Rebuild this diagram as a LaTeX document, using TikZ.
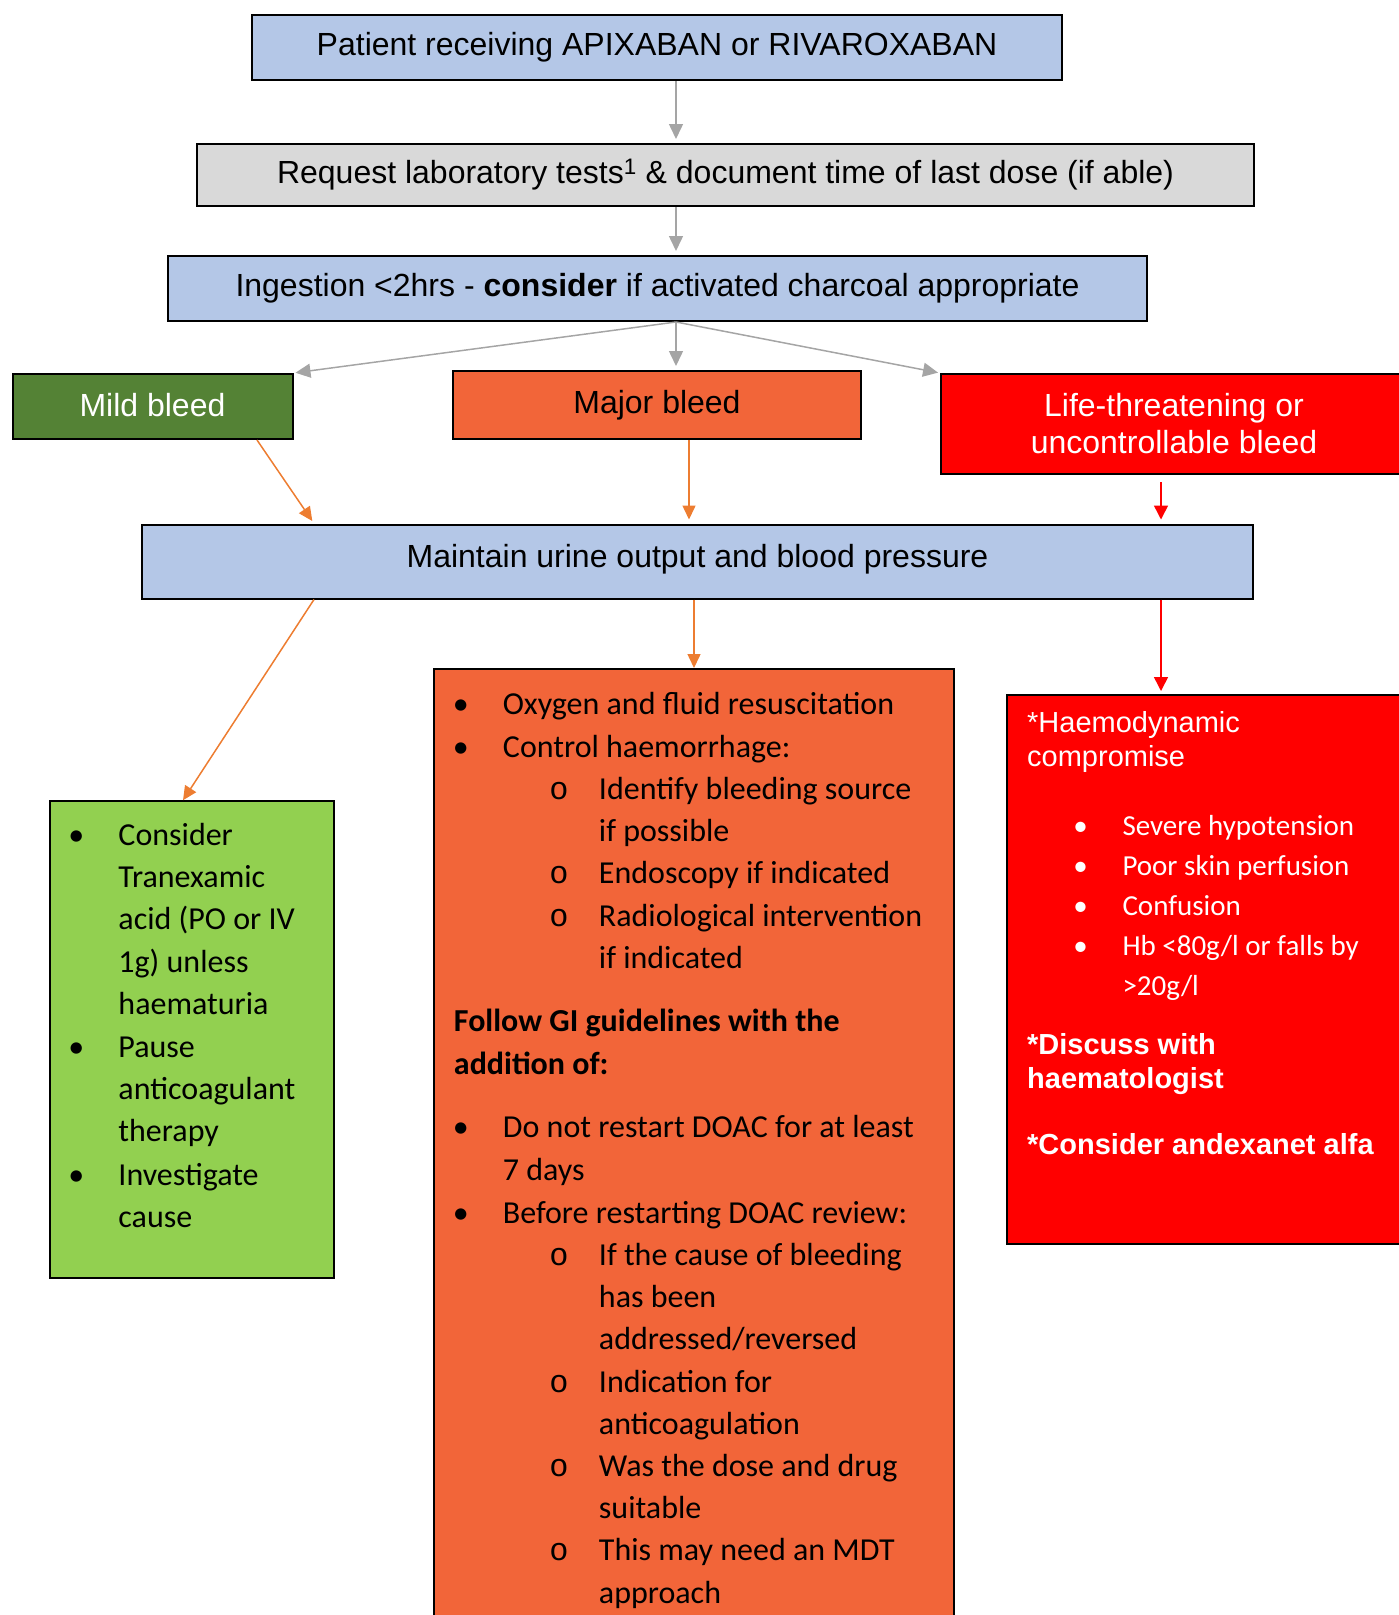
\documentclass[tikz,border=0pt]{standalone}
\usepackage{fontspec}
\setmainfont{Carlito}
\newfontfamily\arialfont{Liberation Sans}
\newfontfamily\monofont{Liberation Mono}
\usepackage{enumitem}
\usetikzlibrary{arrows.meta}

\definecolor{boxblue}{HTML}{B4C7E7}
\definecolor{boxgray}{HTML}{D9D9D9}
\definecolor{mildgreen}{HTML}{548235}
\definecolor{listgreen}{HTML}{92D050}
\definecolor{majororange}{HTML}{F26539}
\definecolor{arrowgray}{HTML}{A5A5A5}
\definecolor{arroworange}{HTML}{ED7D31}

\setlist[itemize]{nosep}
\setlist[itemize,1]{label=\makebox[0pt]{\textbullet}, leftmargin=49pt, labelwidth=0pt, labelsep=42pt, itemindent=0pt, itemsep=1pt}
\setlist[itemize,2]{label=\makebox[0pt]{\monofont o}, leftmargin=96pt, labelwidth=0pt, labelsep=40pt, itemindent=0pt}

\begin{document}
\begin{tikzpicture}[x=1pt,y=-1pt,
  flowbox/.style={draw=black, line width=2pt, inner sep=0pt, align=center,
    font=\arialfont\fontsize{32}{37}\selectfont},
  listbox/.style={draw=black, line width=1.5pt, inner sep=0pt},
  listtext/.style={anchor=north west, inner sep=0pt, align=flush left,
    font=\fontsize{32}{42.2}\selectfont},
  grayarrow/.style={draw=arrowgray, line width=1.5pt, -{Triangle[length=15pt,width=14pt]}},
  orangearrow/.style={draw=arroworange, line width=1.5pt, -{Triangle[length=14pt,width=13pt]}},
  redarrow/.style={draw=red, line width=1.5pt, -{Triangle[length=14pt,width=14pt]}}]
\useasboundingbox (0,0) rectangle (1399,1615);
\clip (0,0) rectangle (1399,1615);

% columns of the connectors
\coordinate (spine) at (676,0);
\coordinate (mildcol) at (314,0);
\coordinate (majorcol) at (689,0);
\coordinate (lifecol) at (1161,0);

\node[flowbox, fill=boxblue, minimum width=810pt, minimum height=65pt] (patient) at (657,47.5) {Patient receiving APIXABAN or RIVAROXABAN};
\node[flowbox, fill=boxgray, minimum width=1057pt, minimum height=62pt] (request) at (725.5,175) {Request laboratory tests\textsuperscript{1} \& document time of last dose (if able)};
\node[flowbox, fill=boxblue, minimum width=979pt, minimum height=65pt] (ingest) at (657.5,288.5) {Ingestion <2hrs - \textbf{consider} if activated charcoal appropriate};

\node[flowbox, fill=mildgreen, text=white, text depth=4pt, minimum width=280pt, minimum height=65pt] (mild) at (152.5,406.5) {Mild bleed};
\node[flowbox, fill=majororange, minimum width=408pt, minimum height=68pt] (major) at (657,405) {Major bleed};
\node[flowbox, fill=red, text=white, minimum width=466pt, minimum height=100pt] (life) at (1174,424) {Life-threatening or\\uncontrollable bleed};

\node[flowbox, fill=boxblue, text depth=12pt, minimum width=1111pt, minimum height=74pt] (maintain) at (697.5,561.5) {Maintain urine output and blood pressure};

\node[listbox, fill=listgreen, minimum width=284pt, minimum height=477pt] (mildlist) at (192,1039.5) {};
\node[listbox, fill=majororange, minimum width=520pt, minimum height=1000pt, anchor=north] (majorlist) at (694,668) {};
\node[listbox, fill=red, minimum width=420pt, minimum height=549pt, anchor=north west] (lifelist) at (1006,694) {};

\node[listtext, text width=260pt] (mildtext) at ([xshift=20pt,yshift=-2.8pt]mildlist.north west) {%
\begin{itemize}
\item Consider\\Tranexamic\\acid (PO or IV\\1g) unless\\haematuria
\item Pause\\anticoagulant\\therapy
\item Investigate\\cause
\end{itemize}};

\node[listtext, text width=490pt] (majortext) at ([xshift=20.5pt,yshift=-3.6pt]majorlist.north west) {%
\begin{itemize}
\item Oxygen and fluid resuscitation
\item Control haemorrhage:
  \begin{itemize}
  \item Identify bleeding source\\if possible
  \item Endoscopy if indicated
  \item Radiological intervention\\if indicated
  \end{itemize}
\end{itemize}\par
\vspace{21.5pt}
\textbf{Follow GI guidelines with the\\addition of:}\par
\vspace{21.5pt}
\begin{itemize}
\item Do not restart DOAC for at least\\7 days
\item Before restarting DOAC review:
  \begin{itemize}
  \item If the cause of bleeding\\has been\\addressed/reversed
  \item Indication for\\anticoagulation
  \item Was the dose and drug\\suitable
  \item This may need an MDT\\approach
  \end{itemize}
\end{itemize}};

\node[listtext, anchor=base west, text=white, text width=380pt] (lifetext) at ([xshift=21pt,yshift=-38.5pt]lifelist.north west) {%
{\arialfont\fontsize{29}{34}\selectfont *Haemodynamic\\compromise\par}%
\vspace{28.7pt}%
{\fontsize{29}{40}\selectfont
\begin{itemize}[leftmargin=95.3pt, labelsep=41.9pt, itemsep=0pt]
\item Severe hypotension
\item Poor skin perfusion
\item Confusion
\item Hb <80g/l or falls by\\>20g/l
\end{itemize}\par}%
\vspace{25.5pt}%
{\arialfont\bfseries\fontsize{29}{34}\selectfont *Discuss with\\haematologist\par
\vspace{32pt}
*Consider andexanet alfa\par}};

\draw[grayarrow, shorten >=4pt] (patient.south -| spine) -- (request.north -| spine);
\draw[grayarrow, shorten >=4pt] (request.south -| spine) -- (ingest.north -| spine);
\draw[grayarrow, shorten >=2pt] (ingest.south -| spine) -- (mild.north east);
\draw[grayarrow, shorten >=4pt] (ingest.south -| spine) -- (major.north -| spine);
\draw[grayarrow, shorten >=2pt] (ingest.south -| spine) -- (life.north west);

\draw[orangearrow, shorten >=3pt] ([xshift=-36.5pt]mild.south east) -- (maintain.north -| mildcol);
\draw[orangearrow, shorten >=4pt] (major.south -| majorcol) -- (maintain.north -| majorcol);
\draw[redarrow, shorten <=7pt, shorten >=4pt] (life.south -| lifecol) -- (maintain.north -| lifecol);

\draw[orangearrow] (maintain.south -| mildcol) -- ([xshift=-9pt]mildlist.north);
\draw[orangearrow] (maintain.south -| majorlist.north) -- (majorlist.north);
\draw[redarrow, shorten >=3pt] (maintain.south -| lifecol) -- (lifelist.north -| lifecol);
\end{tikzpicture}
\end{document}
